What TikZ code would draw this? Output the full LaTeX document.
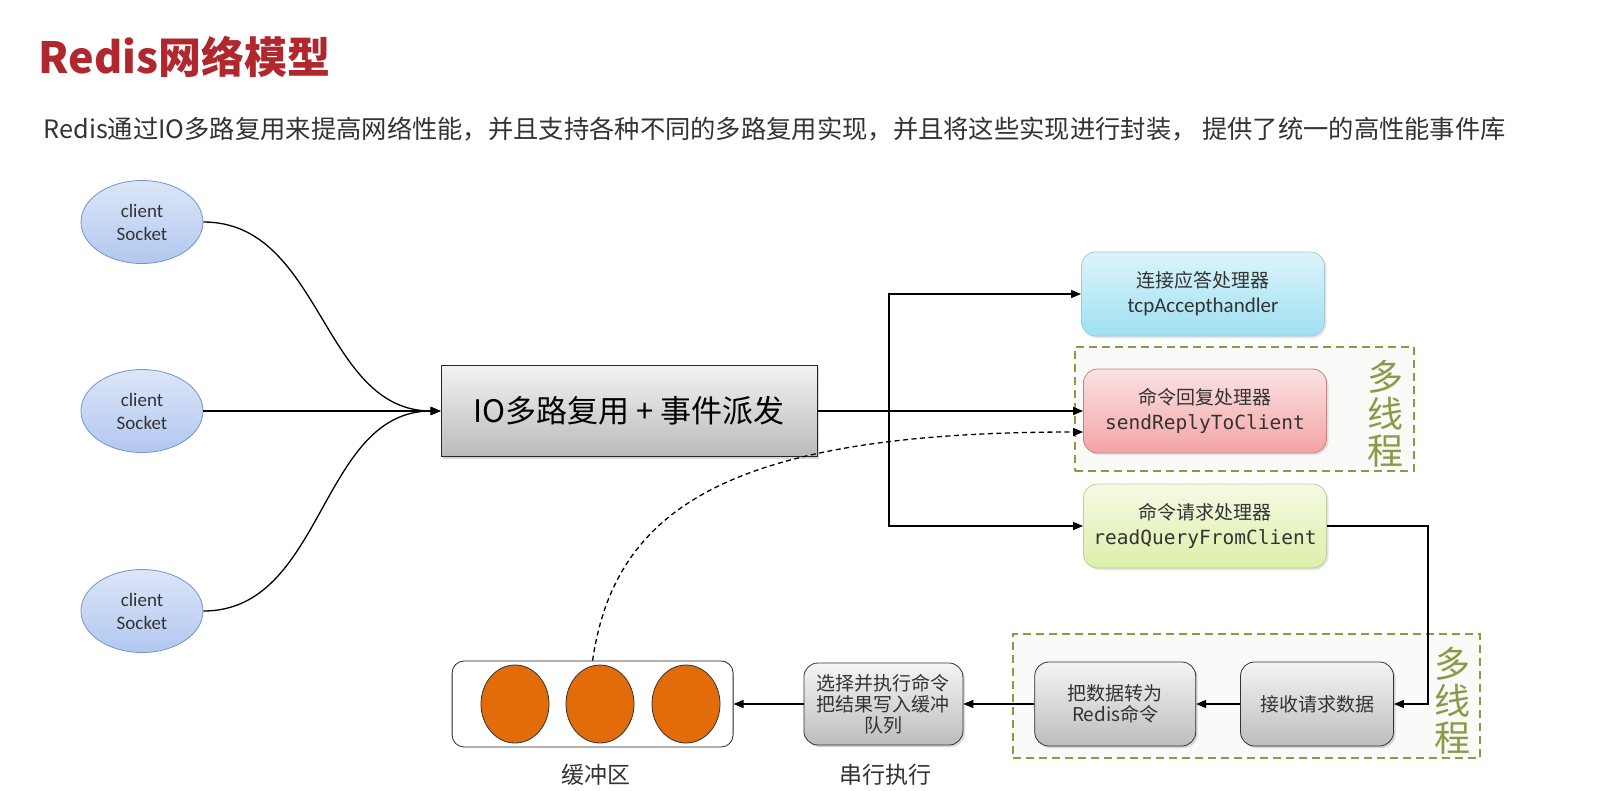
\documentclass[tikz,border=0pt]{standalone}
\usepackage{fontspec}
\setmainfont{Carlito}
\setmonofont{DejaVu Sans Mono}
\newfontfamily\cjk{Noto Sans CJK SC}
\usetikzlibrary{arrows.meta,positioning,shadows,shapes.geometric}
\definecolor{TitleRed}{HTML}{B0282E}
\definecolor{Body}{HTML}{333333}
\definecolor{Olive}{HTML}{8B9A46}
\definecolor{SkyTop}{HTML}{DCE6F8}
\definecolor{SkyBot}{HTML}{B2C7F0}
\definecolor{SkyLine}{HTML}{7393D2}
\definecolor{Cyan}{HTML}{9EE0F2}
\definecolor{Rose}{HTML}{F3A3A5}
\definecolor{Lime}{HTML}{DDEFA8}
\definecolor{Ember}{HTML}{E36C0A}
\tikzset{
  client/.style={
    ellipse, draw=SkyLine, thick, top color=SkyTop, bottom color=SkyBot,
    minimum width=122pt, minimum height=83pt, inner sep=0pt, align=center,
    font=\fontsize{19}{23}\selectfont, text=Body
  },
  dispatcher/.style={
    draw=black!85, thick, top color=black!5, bottom color=black!27,
    minimum width=376pt, minimum height=91pt, inner sep=0pt,
    font=\cjk\fontsize{31}{36}\selectfont,
    drop shadow={shadow xshift=2pt,shadow yshift=-2pt,opacity=0.3}
  },
  handler/.style={
    rounded corners=14pt, thick, minimum width=243pt, minimum height=84pt,
    inner sep=0pt, align=center, text=Body, font=\fontsize{19.5}{25}\selectfont,
    drop shadow={shadow xshift=2pt,shadow yshift=-2pt,opacity=0.2}
  },
  multibox/.style={
    draw=Olive, dashed, dash pattern=on 8pt off 5pt, line width=2.5pt,
    fill=Olive!4, inner sep=0pt
  },
  multilabel/.style={
    align=center, text=Olive, font=\cjk\fontsize{36}{37}\selectfont
  },
  stepbox/.style={
    rounded corners=14pt, draw=black!80, thick, top color=black!4,
    bottom color=black!26, minimum height=84pt, inner sep=0pt, align=center,
    text=Body, font=\cjk\fontsize{19}{21}\selectfont,
    drop shadow={shadow xshift=2pt,shadow yshift=-2pt,opacity=0.3}
  },
  buffer/.style={
    rounded corners=12pt, draw=black!85, thick, fill=white,
    minimum width=281pt, minimum height=86pt
  },
  token/.style={
    ellipse, draw=black!80, thick, fill=Ember,
    minimum width=68pt, minimum height=78pt, inner sep=0pt
  },
  caption/.style={text=Body, font=\cjk\fontsize{23}{26}\selectfont},
  flow/.style={-{Triangle[length=10pt,width=8pt]}, line width=1.3pt},
  replyflow/.style={flow, dashed, dash pattern=on 5pt off 3.5pt}
}

\begin{document}
\begin{tikzpicture}[x=1pt,y=-1pt]
  \useasboundingbox (0,0) rectangle (1621,790);
  \fill[white] (0,0) rectangle (1621,790);

  % heading
  \node[anchor=west,text=TitleRed,font=\cjk\bfseries\fontsize{43}{48}\selectfont]
    (title) at (35,57) {Redis网络模型};
  \node[anchor=west,text=Body,font=\cjk\fontsize{25.3}{30}\selectfont] (intro) at (40,129)
    {Redis通过IO多路复用来提高网络性能，并且支持各种不同的多路复用实现，并且将这些实现进行封装， 提供了统一的高性能事件库};

  % clients and dispatcher
  \foreach \y/\n in {222/sock1,411/sock2,611/sock3}
    \node[client] (\n) at (142,\y) {client\\Socket};
  \node[dispatcher] (io) at (629,411) {IO多路复用 + 事件派发};

  % multi-thread groups
  \node[multibox,minimum width=339pt,minimum height=124pt] (mtop) at (1244.5,409) {};
  \node[multibox,minimum width=467pt,minimum height=124pt] (mbot) at (1246.5,696) {};
  \node[multilabel] (mtoplabel) at (1385,414) {多\\线\\程};
  \node[multilabel] (mbotlabel) at (1452,701) {多\\线\\程};

  % handlers
  \node[handler,draw=Cyan!80!black!70,top color=Cyan!35,bottom color=Cyan] (accept) at (1203,294)
    {{\cjk\fontsize{19}{25}\selectfont 连接应答处理器}\\{\fontsize{21}{25}\selectfont tcpAccepthandler}};
  \node[handler,draw=Rose!80!black,top color=Rose!30,bottom color=Rose] (reply) at (1205,411)
    {{\cjk\fontsize{19}{25}\selectfont 命令回复处理器}\\\texttt{sendReplyToClient}};
  \node[handler,draw=Lime!80!black!80,top color=Lime!30,bottom color=Lime] (query) at (1205,526)
    {{\cjk\fontsize{19}{25}\selectfont 命令请求处理器}\\\texttt{readQueryFromClient}};

  % request pipeline
  \node[stepbox,minimum width=153pt] (recv) at (1317,704) {接收请求数据};
  \node[stepbox,minimum width=161pt,left=44pt of recv] (parse) {把数据转为\\Redis命令};
  \node[stepbox,minimum width=159pt,minimum height=82pt,left=71pt of parse] (exec)
    {选择并执行命令\\把结果写入缓冲\\队列};
  \node[buffer,left=70pt of exec] (buf) {};
  \foreach \x/\n in {515/tok1,600/tok2,686/tok3}
    \node[token] (\n) at (\x,704) {};
  \node[caption] (buflabel) at (596,775) {缓冲区};
  \node[caption] (execlabel) at (885.5,775) {串行执行};

  % connectors
  \coordinate (split) at (889,411);
  \draw[flow] (sock1.east) to[out=0,in=180] (io.west);
  \draw[flow] (sock2.east) -- (io.west);
  \draw[flow] (sock3.east) to[out=0,in=180] (io.west);
  \draw[flow] (io.east) -- (reply.west);
  \draw[flow] (split) |- (accept.west);
  \draw[flow] (split) |- (query.west);
  \draw[flow] (query.east) -- ++(101,0) |- (recv.east);
  \draw[flow] (recv) -- (parse);
  \draw[flow] (parse) -- (exec);
  \draw[flow] (exec) -- (buf);
  \draw[replyflow] (buf.north) .. controls (615,505) and (735,432) .. ([yshift=-21pt]reply.west);
\end{tikzpicture}
\end{document}
